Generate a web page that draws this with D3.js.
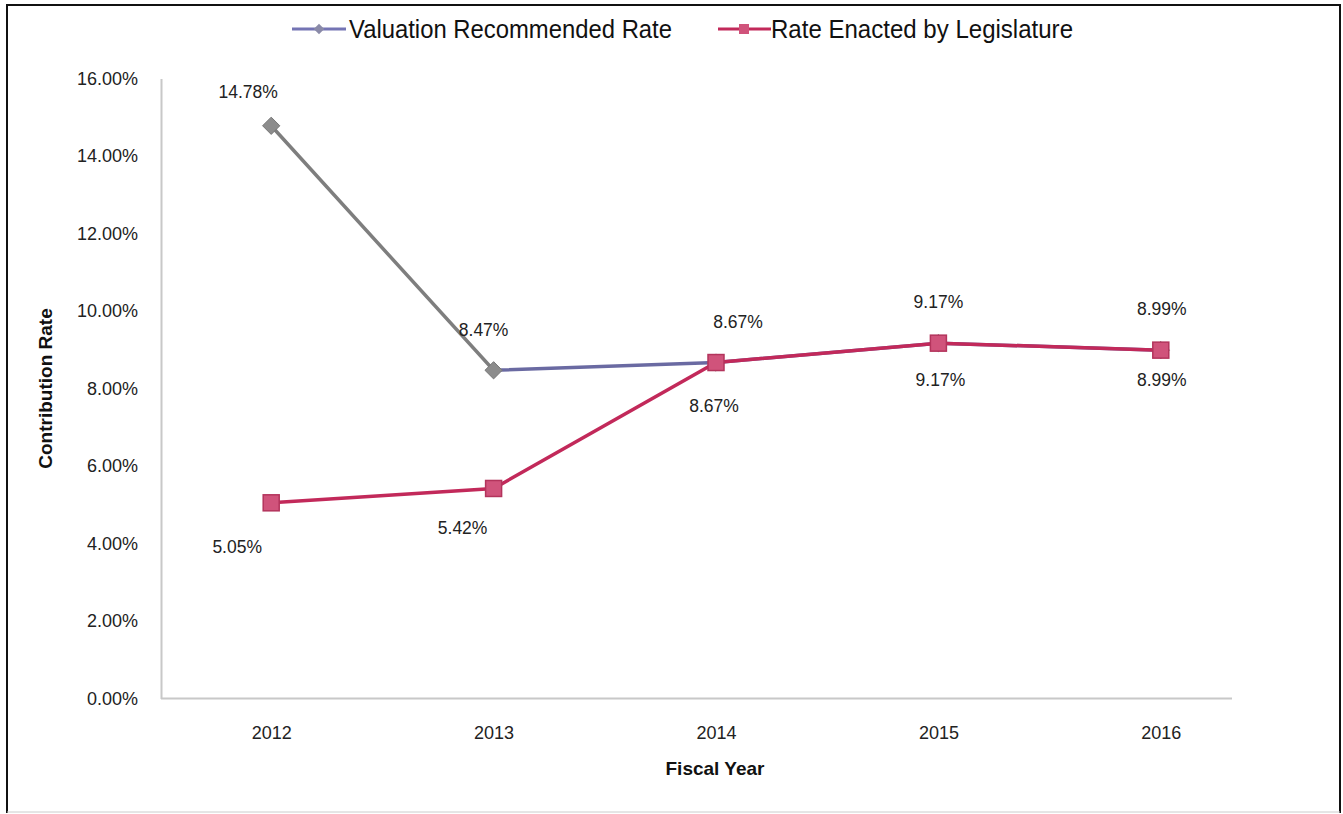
<!DOCTYPE html>
<html>
<head>
<meta charset="utf-8">
<script src="https://cdn.jsdelivr.net/npm/d3@7"></script>
<style>
  html, body { margin: 0; padding: 0; background: #fff; }
  svg { display: block; font-family: "Liberation Sans", Arial, sans-serif; }
</style>
</head>
<body>
<svg id="chart" width="1343" height="814"></svg>
<script>
// Contribution rates by fiscal year
const years = ["2012", "2013", "2014", "2015", "2016"];
const recommendedRate = [14.78, 8.47, 8.67, 9.17, 8.99];
const enactedRate = [5.05, 5.42, 8.67, 9.17, 8.99];
const yTicks = [0, 2, 4, 6, 8, 10, 12, 14, 16];
const seriesNames = ["Valuation Recommended Rate", "Rate Enacted by Legislature"];

// label nudges (dx, dy) relative to each point
const recLabelNudge = [[-23, -34], [-10, -40], [22, -41], [0, -41], [1, -41]];
const enaLabelNudge = [[-34, 44], [-31, 39], [-2, 43], [2, 37], [1, 30]];

const svg = d3.select("#chart");

const x = d3.scalePoint().domain(years).range([160, 1272]).padding(0.5);
const y = d3.scaleLinear().domain([0, 16]).range([698.5, 78.5]);

const fmt = v => v.toFixed(2) + "%";

// frame
svg.append("line").attr("x1", 7).attr("x2", 7).attr("y1", 4).attr("y2", 813).attr("stroke", "#111").attr("stroke-width", 2);
svg.append("line").attr("x1", 6).attr("x2", 1341).attr("y1", 5).attr("y2", 5).attr("stroke", "#111").attr("stroke-width", 2);
svg.append("line").attr("x1", 1340).attr("x2", 1340).attr("y1", 4).attr("y2", 813).attr("stroke", "#111").attr("stroke-width", 2);
svg.append("line").attr("x1", 7).attr("x2", 1340).attr("y1", 812).attr("y2", 812).attr("stroke", "#ccc").attr("stroke-width", 1);

// axes
const yAxis = svg.append("g")
  .attr("transform", "translate(161,0)")
  .call(d3.axisLeft(y).tickValues(yTicks).tickFormat(d => d.toFixed(2) + "%").tickSize(0).tickPadding(23));
yAxis.select(".domain").attr("stroke", "#c8c8c8").attr("stroke-width", 2);
yAxis.selectAll("text").attr("font-size", 18).attr("fill", "#222").attr("font-family", "Liberation Sans, Arial, sans-serif");

const xAxis = svg.append("g")
  .attr("transform", `translate(0,${y(0)})`)
  .call(d3.axisBottom(x).tickSize(0).tickPadding(28));
xAxis.select(".domain").attr("d", `M161,0H1232`).attr("stroke", "#c8c8c8").attr("stroke-width", 2);
xAxis.selectAll("text").attr("font-size", 18).attr("fill", "#222").attr("font-family", "Liberation Sans, Arial, sans-serif");

// axis titles
svg.append("text")
  .attr("transform", `translate(52,${(y(0) + y(16)) / 2}) rotate(-90)`)
  .attr("text-anchor", "middle")
  .attr("font-size", 19).attr("font-weight", "bold").attr("fill", "#111")
  .text("Contribution Rate");
svg.append("text")
  .attr("x", 715).attr("y", 775)
  .attr("text-anchor", "middle")
  .attr("font-size", 19).attr("font-weight", "bold").attr("fill", "#111")
  .text("Fiscal Year");

// line colouring for the recommended series: grey into 2013, blue after
const defs = svg.append("defs");
const grad = defs.append("linearGradient")
  .attr("id", "recGrad").attr("gradientUnits", "userSpaceOnUse")
  .attr("x1", x(years[0])).attr("x2", x(years[years.length - 1])).attr("y1", 0).attr("y2", 0);
const split = (x(years[1]) - x(years[0])) / (x(years[years.length - 1]) - x(years[0]));
grad.append("stop").attr("offset", 0).attr("stop-color", "#7e7e7e");
grad.append("stop").attr("offset", split).attr("stop-color", "#7e7e7e");
grad.append("stop").attr("offset", split).attr("stop-color", "#6a6aa2");
grad.append("stop").attr("offset", 1).attr("stop-color", "#6a6aa2");

const line = d3.line().x((d, i) => x(years[i])).y(d => y(d));

// recommended series
svg.append("path")
  .datum(recommendedRate)
  .attr("d", line)
  .attr("fill", "none")
  .attr("stroke", "url(#recGrad)")
  .attr("stroke-width", 3.5);

svg.append("g").selectAll("path")
  .data(recommendedRate)
  .join("path")
  .attr("transform", (d, i) => `translate(${x(years[i])},${y(d)})`)
  .attr("d", d3.symbol(d3.symbolDiamond2, 190))
  .attr("fill", "#8c8c8c")
  .attr("stroke", "#777")
  .attr("stroke-width", 1);

// enacted series
svg.append("path")
  .datum(enactedRate)
  .attr("d", line)
  .attr("fill", "none")
  .attr("stroke", "#c2295a")
  .attr("stroke-width", 3.5);

svg.append("g").selectAll("rect")
  .data(enactedRate)
  .join("rect")
  .attr("x", (d, i) => x(years[i]) - 8)
  .attr("y", d => y(d) - 8)
  .attr("width", 16).attr("height", 16)
  .attr("fill", "#d0537b")
  .attr("stroke", "#b3345c")
  .attr("stroke-width", 1.5);

// value labels
svg.append("g").selectAll("text")
  .data(recommendedRate)
  .join("text")
  .attr("x", (d, i) => x(years[i]) + recLabelNudge[i][0])
  .attr("y", (d, i) => y(d) + recLabelNudge[i][1])
  .attr("dy", "0.35em")
  .attr("text-anchor", "middle")
  .attr("font-size", 17.5).attr("fill", "#222")
  .text(fmt);

svg.append("g").selectAll("text")
  .data(enactedRate)
  .join("text")
  .attr("x", (d, i) => x(years[i]) + enaLabelNudge[i][0])
  .attr("y", (d, i) => y(d) + enaLabelNudge[i][1])
  .attr("dy", "0.35em")
  .attr("text-anchor", "middle")
  .attr("font-size", 17.5).attr("fill", "#222")
  .text(fmt);

// legend
const legend = svg.append("g");
const legY = 29;
// recommended
legend.append("line").attr("x1", 292).attr("x2", 346).attr("y1", legY).attr("y2", legY)
  .attr("stroke", "#7474b4").attr("stroke-width", 3);
legend.append("path").attr("transform", `translate(319,${legY})`)
  .attr("d", d3.symbol(d3.symbolDiamond2, 70))
  .attr("fill", "#8a8aa8");
legend.append("text").attr("x", 349).attr("y", legY + 9)
  .attr("font-size", 26).attr("fill", "#111")
  .attr("textLength", 323).attr("lengthAdjust", "spacingAndGlyphs")
  .text(seriesNames[0]);
// enacted
legend.append("line").attr("x1", 718).attr("x2", 771).attr("y1", legY).attr("y2", legY)
  .attr("stroke", "#c2295a").attr("stroke-width", 3);
legend.append("rect").attr("x", 739).attr("y", legY - 5).attr("width", 10).attr("height", 10)
  .attr("fill", "#d0537b");
legend.append("text").attr("x", 771).attr("y", legY + 9)
  .attr("font-size", 26).attr("fill", "#111")
  .attr("textLength", 302).attr("lengthAdjust", "spacingAndGlyphs")
  .text(seriesNames[1]);
</script>
</body>
</html>
